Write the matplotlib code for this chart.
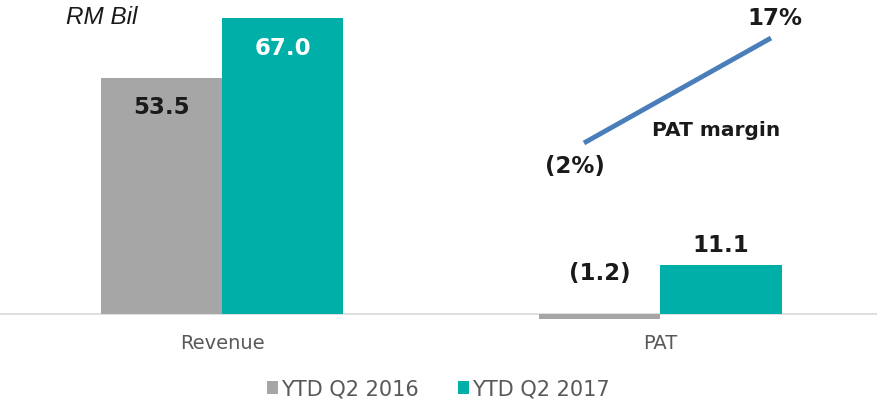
import numpy as np
import matplotlib.pyplot as plt

# data
categories = ["Revenue", "PAT"]
series_names = ["YTD Q2 2016", "YTD Q2 2017"]
values_2016 = [53.5, -1.2]
values_2017 = [67.0, 11.1]
labels_2016 = ["53.5", "(1.2)"]
labels_2017 = ["67.0", "11.1"]
margin_values = [-2, 17]
margin_labels = ["(2%)", "17%"]

gray = "#A6A6A6"
teal = "#00B0A8"
blue = "#4A7EBB"
dark = "#1A1A1A"

W, H = 877, 400
fig = plt.figure(figsize=(W / 100, H / 100), dpi=100)
# axes box in pixel terms: top 10, bottom 330
ax = fig.add_axes([0, 1 - 330 / H, 1, 320 / H])

x = np.arange(len(categories))
bw = 0.277
ax.bar(x - bw / 2, values_2016, bw, color=gray, label=series_names[0])
ax.bar(x + bw / 2, values_2017, bw, color=teal, label=series_names[1])
ax.set_xlim(-0.507, 1.495)
ax.set_ylim(-3.62, 68.8)
ax.axhline(0, color="#D9D9D9", lw=1.2, zorder=0)

for s in ax.spines.values():
    s.set_visible(False)
ax.set_yticks([])
ax.set_xticks(x)
ax.set_xticklabels(categories, fontsize=14, color="#595959")
ax.tick_params(axis="x", length=0, pad=3)

# bar value labels
lab_font = dict(fontsize=16.5, fontweight="bold", ha="center", va="center")
ax.text(x[0] - bw / 2, values_2016[0] - 6.8, labels_2016[0], color=dark, **lab_font)
ax.text(x[0] + bw / 2, values_2017[0] - 6.8, labels_2017[0], color="white", **lab_font)
ax.text(x[1] - bw / 2, values_2016[1] + 10.3, labels_2016[1], color=dark, **lab_font)
ax.text(x[1] + bw / 2, values_2017[1] + 4.3, labels_2017[1], color=dark, **lab_font)

ax.text(-0.357, 68.8 - 8 / 4.42, "RM Bil", fontsize=17.5, fontstyle="italic",
        family="Liberation Sans", ha="left", va="center", color=dark)

# PAT margin line on a twin axis
ax2 = ax.twinx()
ax2.set_ylim(-35.84, 22.07)
ax2.set_yticks([])
for s in ax2.spines.values():
    s.set_visible(False)
mx = [x[1] - 0.174, x[1] + 0.253]
ax2.plot(mx, margin_values, color=blue, lw=3.5, solid_capstyle="butt")
ax2.text(mx[0] - 0.02, margin_values[0] - 4.3, margin_labels[0], color=dark, **lab_font)
ax2.text(mx[1] + 0.01, margin_values[1] + 3.6, margin_labels[1], color=dark, **lab_font)
ax2.text(x[1] + 0.128, 0.3, "PAT margin", color=dark, fontsize=14.5, fontweight="bold",
         ha="center", va="center")

leg = fig.legend(loc="center", bbox_to_anchor=(0.5, 1 - 389 / H), ncol=2, frameon=False,
                 handlelength=0.5, handleheight=0.55, handletextpad=0.15,
                 columnspacing=1.9, prop={"size": 15})
for t in leg.get_texts():
    t.set_color("#595959")

fig.savefig("out.png", dpi=100)
